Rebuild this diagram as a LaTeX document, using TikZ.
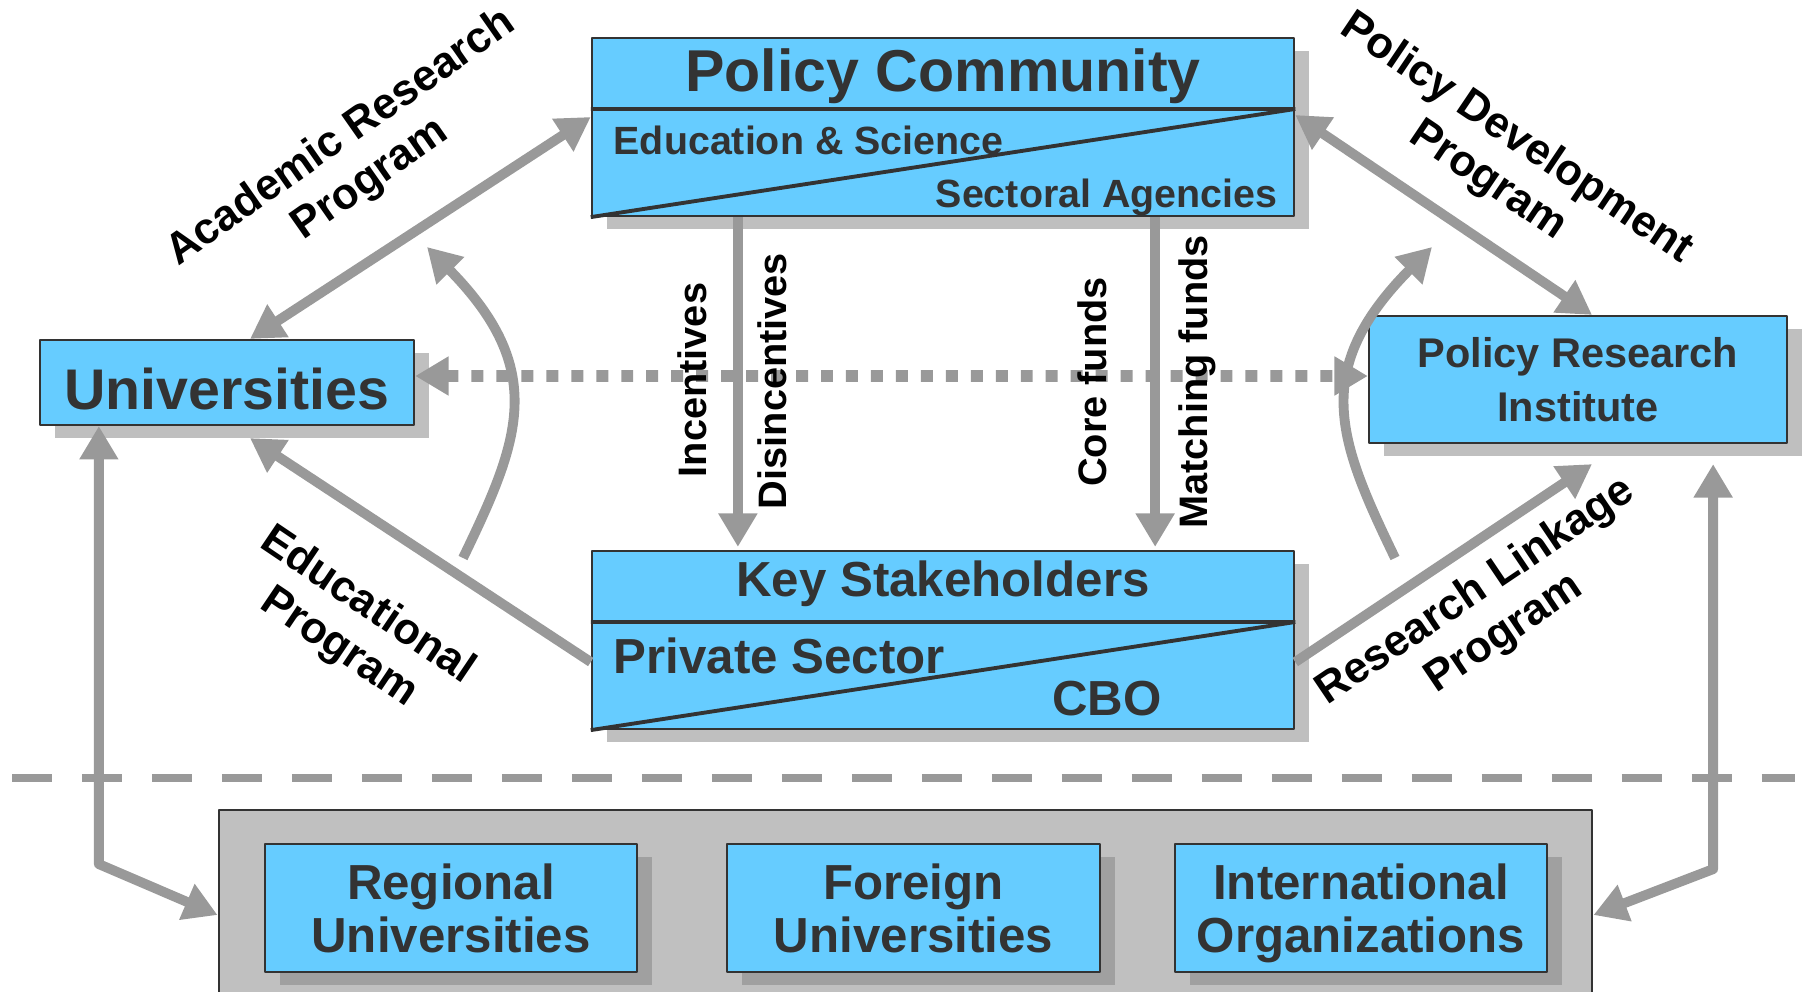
\documentclass[tikz,border=0pt]{standalone}
\usepackage{fontspec}
\setmainfont{Liberation Sans}
\usetikzlibrary{arrows.meta,shadows,calc}
\definecolor{boxblue}{RGB}{102,204,255}
\definecolor{ink}{RGB}{51,51,51}
\definecolor{flow}{RGB}{153,153,153}
\definecolor{shade}{RGB}{191,191,191}
\definecolor{panelgray}{RGB}{192,192,192}
\definecolor{deepshade}{RGB}{160,160,160}

\begin{document}
\begin{tikzpicture}[x=0.01cm,y=-0.01cm,line join=round,
  >={Triangle[length=9.5pt,width=10.5pt]},
  cell/.style={draw=ink,line width=.6pt,fill=boxblue,text=ink,align=center,inner sep=0pt},
  box/.style={cell,drop shadow={shadow xshift=.15cm,shadow yshift=-.13cm,fill=shade,opacity=1}},
  member/.style={cell,minimum width=3.72cm,minimum height=1.28cm,text depth=0pt,font=\fontsize{14}{15}\selectfont\bfseries,
    drop shadow={shadow xshift=.15cm,shadow yshift=-.13cm,fill=deepshade,opacity=1}},
  boxtext/.style={inner sep=0pt,text=ink},
  divider/.style={draw=ink,line width=1.1pt},
  link/.style={draw=flow,line width=2.8pt},
  tag/.style={align=center,font=\fontsize{12.4}{14.5}\selectfont\bfseries},
  flowtag/.style={rotate=90,font=\fontsize{11.3}{13}\selectfont\bfseries}]
\useasboundingbox (0,0) rectangle (1804,991);

\node[fill=panelgray,draw=ink,line width=.6pt,minimum width=13.73cm,minimum height=2.1cm] (panel) at (905.5,915) {};
\node[member] (reg) at (451,908) {Regional\\Universities};
\node[member] (for) at (913.5,908) {Foreign\\Universities};
\node[member] (int) at (1361,908) {International\\Organizations};

\node[box,minimum width=7.02cm,minimum height=1.78cm] (pc) at (943,127) {};
\node[box,minimum width=7.02cm,minimum height=1.78cm] (ks) at (943,640) {};
\node[box,minimum width=3.74cm,minimum height=.85cm,text height=.55cm,font=\fontsize{16.3}{18}\selectfont\bfseries] (univ) at (227,382.5) {Universities};
\node[box,minimum width=4.18cm,minimum height=1.27cm,font=\fontsize{11.8}{15.4}\selectfont\bfseries] (pri) at (1578,379.5) {Policy Research\\Institute};

\coordinate (pcl) at ($(pc.north west)!.4!(pc.south west)$);
\coordinate (pcr) at ($(pc.north east)!.4!(pc.south east)$);
\coordinate (ksl) at ($(ks.north west)!.4!(ks.south west)$);
\coordinate (ksr) at ($(ks.north east)!.4!(ks.south east)$);
\draw[divider] (pcl) -- (pcr) (pc.south west) -- (pcr);
\draw[divider] (ksl) -- (ksr) (ks.south west) -- (ksr);

\node[boxtext,anchor=base,font=\fontsize{16.8}{20}\selectfont\bfseries] (pctitle) at (943,92) {Policy Community};
\node[boxtext,anchor=base west,font=\fontsize{11.2}{13}\selectfont\bfseries] (edu) at (613,155) {Education \& Science};
\node[boxtext,anchor=base east,font=\fontsize{11.2}{13}\selectfont\bfseries] (sec) at (1278,208) {Sectoral Agencies};
\node[boxtext,anchor=base,font=\fontsize{14}{16}\selectfont\bfseries] (kstitle) at (943,596) {Key Stakeholders};
\node[boxtext,anchor=base west,font=\fontsize{14}{16}\selectfont\bfseries] (priv) at (613,673) {Private Sector};
\node[boxtext,anchor=base,font=\fontsize{14}{16}\selectfont\bfseries] (cbo) at (1107,715) {CBO};

\coordinate (sepl) at (12,778);
\coordinate (sepr) at (1795,778);
\draw[draw=flow,line width=2.3pt,dash pattern=on 11.4pt off 8.5pt] (sepl) -- (sepr);

\draw[link,<->] ([xshift=.23cm]univ.north) -- ([yshift=.1cm]pc.west);
\draw[link,->] ([yshift=-.22cm]ks.west) -- ([xshift=.23cm,yshift=-.12cm]univ.south);
\draw[link,<->] ([yshift=.12cm]pc.east) -- ([xshift=.14cm]pri.north);
\draw[link,->] ([yshift=-.22cm]ks.east) -- ([xshift=.14cm,yshift=-.2cm]pri.south);
\draw[link,->] ([xshift=-2.05cm]pc.south) -- ([xshift=-2.05cm,yshift=.03cm]ks.north);
\draw[link,->] ([xshift=2.12cm]pc.south) -- ([xshift=2.12cm,yshift=.03cm]ks.north);
\draw[link,<->] ([xshift=.6cm]univ.south west) -- ++(0,438) -- (panel.west);
\draw[link,<->] ([xshift=-.75cm,yshift=-.2cm]pri.south east) -- ++(0,405) -- (panel.east);
\draw[link,line width=3.4pt,dash pattern=on 3.4pt off 3.7pt,<->] ([yshift=.065cm]univ.east) -- ([yshift=.035cm]pri.west);

\coordinate (lfoot) at (463,558);
\coordinate (lhead) at (427,247);
\coordinate (rfoot) at (1395,558);
\coordinate (rhead) at (1432,247);
\draw[link,->] (lfoot) .. controls (520,440) and (548,370) .. (lhead);
\draw[link,->] (rfoot) .. controls (1338,440) and (1310,370) .. (rhead);

\node[tag,rotate=35] (arp) at (356,159) {Academic Research\\Program};
\node[tag,rotate=-34] (pdp) at (1502,160) {Policy Development\\Program};
\node[tag,rotate=-34] (edp) at (353,627) {Educational\\Program};
\node[tag,rotate=34] (rlp) at (1490,613) {Research Linkage\\Program};
\node[flowtag] (inc) at (692,380) {Incentives};
\node[flowtag] (dis) at (772,381) {Disincentives};
\node[flowtag] (core) at (1092,382) {Core funds};
\node[flowtag] (match) at (1197,382) {Matching funds};
\end{tikzpicture}
\end{document}
